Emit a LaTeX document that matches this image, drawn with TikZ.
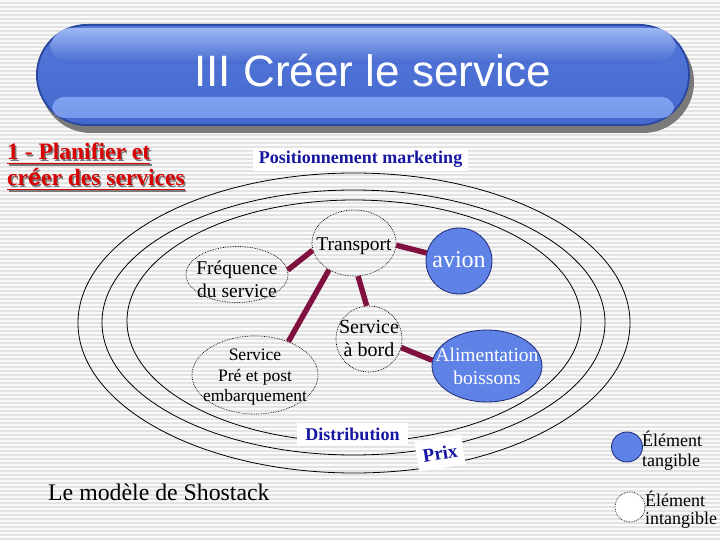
\documentclass[tikz,border=0pt]{standalone}
\usepackage{fontspec}
\setmainfont{Liberation Serif}
\newfontfamily\hsans{Liberation Sans}
\usetikzlibrary{shapes.geometric}
\definecolor{bgstripe}{HTML}{E3E3E3}
\definecolor{bgbase}{HTML}{FAFAFA}
\definecolor{shadowgray}{HTML}{7A7A7A}
\definecolor{bannerdark}{HTML}{2A48A0}
\definecolor{bannerbody}{HTML}{4669CF}
\definecolor{bannerbody2}{HTML}{5276D8}
\definecolor{bannerhl}{HTML}{9CB8F4}
\definecolor{bannerband}{HTML}{80A0F0}
\definecolor{headred}{HTML}{D80000}
\definecolor{navytext}{HTML}{1616A0}
\definecolor{tblue}{HTML}{5E82E6}
\definecolor{navyline}{HTML}{1E2A78}
\definecolor{maroon}{HTML}{80103F}
\tikzset{
  ring/.style={draw=black, line width=0.8pt},
  lab/.style={fill=white, text=navytext, inner sep=0pt, font=\bfseries\fontsize{18}{20}\selectfont},
  intang/.style={ellipse, draw=black, densely dotted, line width=0.7pt, inner sep=0pt},
  tang/.style={ellipse, draw=navyline, line width=0.8pt, fill=tblue, inner sep=0pt},
  txt/.style={inner sep=0pt, anchor=base},
  wtxt/.style={txt, text=white},
  conn/.style={draw=maroon, line width=5.5pt},
  head/.style={inner sep=0pt, anchor=base west, font=\bfseries\fontsize{23.5}{28}\selectfont},
  legtext/.style={inner sep=0pt, anchor=base west, font=\fontsize{18}{20}\selectfont}
}
\begin{document}
\begin{tikzpicture}[x=1pt,y=-1pt]
\useasboundingbox (0,0) rectangle (720,540);
% background
\fill[bgbase] (0,0) rectangle (720,540);
\foreach \i in {0,...,134} \fill[bgstripe] (0,4*\i+2) rectangle (720,4*\i+4);
% title banner
\fill[shadowgray, rounded corners=51pt] (40,31) rectangle (694,133);
\fill[bannerdark, rounded corners=51pt] (36,24) rectangle (690,126);
\shade[top color=bannerbody2, bottom color=bannerbody, rounded corners=49pt] (38,26) rectangle (688,124);
\shade[top color=bannerhl, bottom color=bannerbody, rounded corners=22pt] (50,28) rectangle (676,64);
\shade[top color=bannerband, bottom color=bannerband!85!bannerbody, rounded corners=12pt] (52,97) rectangle (674,118);
\node[inner sep=0pt, anchor=base, text=white, font=\hsans\fontsize{44}{50}\selectfont] (title) at (373,87) {III Créer le service};
% heading
\node[head, text=shadowgray] (h1s) at (8.5,161.5) {1 - Planifier et};
\draw[shadowgray, line width=1.6pt] ([yshift=-3.5pt]h1s.base west) -- ([yshift=-3.5pt]h1s.base east);
\node[head, text=headred] (h1) at (7,160) {1 - Planifier et};
\draw[headred, line width=1.6pt] ([yshift=-3.5pt]h1.base west) -- ([yshift=-3.5pt]h1.base east);
\node[head, text=shadowgray] (h2s) at (8.5,187.5) {cr{\hsans\bfseries é}er des services};
\draw[shadowgray, line width=1.6pt] ([yshift=-3.5pt]h2s.base west) -- ([yshift=-3.5pt]h2s.base east);
\node[head, text=headred] (h2) at (7,186) {cr{\hsans\bfseries é}er des services};
\draw[headred, line width=1.6pt] ([yshift=-3.5pt]h2.base west) -- ([yshift=-3.5pt]h2.base east);
% rings
\draw[ring] (354,323) ellipse [x radius=276pt, y radius=150pt];
\draw[ring] (353.5,322.5) ellipse [x radius=251.5pt, y radius=132.5pt];
\draw[ring] (354,321) ellipse [x radius=227pt, y radius=121pt];
% ring labels
\node[lab, minimum width=215pt, minimum height=23pt] (pos) at (360.5,159.5) {Positionnement marketing};
\node[lab, minimum width=111pt, minimum height=22pt] (dist) at (352.5,434) {Distribution};
\node[lab, minimum width=47pt, minimum height=30pt, rotate=9, font=\bfseries\fontsize{19}{20}\selectfont] (prix) at (440,453) {Prix};
% nodes
\node[intang, minimum width=84pt, minimum height=66pt] (T) at (354,243) {};
\node[intang, minimum width=102pt, minimum height=56pt] (F) at (237,274.5) {};
\node[intang, minimum width=126pt, minimum height=78pt] (P) at (255,375) {};
\node[intang, minimum width=66pt, minimum height=66pt] (B) at (369,339) {};
\node[tang, minimum width=66pt, minimum height=66pt] (Av) at (459,261) {};
\node[tang, minimum width=110pt, minimum height=72pt] (A) at (487,366) {};
% node texts
\begin{scope}[font=\fontsize{19.5}{23}\selectfont]
\node[txt] (Tt) at (354,250) {Transport};
\node[txt] (Ft1) at (237,274) {Fréquence};
\node[txt] (Ft2) at (237,297) {du service};
\end{scope}
\begin{scope}[font=\fontsize{17.5}{21}\selectfont]
\node[txt] (Pt1) at (255,360) {Service};
\node[txt] (Pt2) at (255,381.5) {Pré et post};
\node[txt] (Pt3) at (255,401.5) {embarquement};
\end{scope}
\begin{scope}[font=\fontsize{20}{23}\selectfont]
\node[txt] (Bt1) at (369,333.5) {Service};
\node[txt] (Bt2) at (369,356.5) {à bord};
\end{scope}
\node[wtxt, font=\fontsize{24}{28}\selectfont] (Avt) at (459,267) {avion};
\begin{scope}[font=\fontsize{19.5}{23}\selectfont]
\node[wtxt] (At1) at (487,361.5) {Alimentation};
\node[wtxt] (At2) at (487,384.5) {boissons};
\end{scope}
% connectors
\draw[conn] (T.-3) -- (Av.166);
\draw[conn] (T.190) -- (F.5);
\draw[conn] (T.227) -- (P.45);
\draw[conn] (T.277) -- (B.94);
\draw[conn] (B.-15) -- (A.174);
% caption
\node[inner sep=0pt, anchor=base west, font=\fontsize{23.8}{27}\selectfont] (cap) at (48,500) {Le modèle de Shostack};
% legend
\node[tang, minimum width=31pt, minimum height=30pt] (lt) at (627,447) {};
\node[legtext] (ltt1) at (642,446) {Élément};
\node[legtext] (ltt2) at (642,466) {tangible};
\node[intang, fill=white, minimum width=30pt, minimum height=30pt] (li) at (630,507) {};
\node[legtext] (lit1) at (645,506) {Élément};
\node[legtext] (lit2) at (645,524) {intangible};
\end{tikzpicture}
\end{document}
